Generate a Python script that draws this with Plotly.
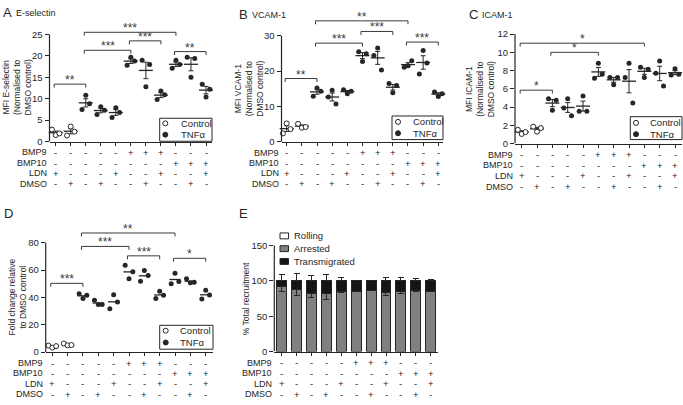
import numpy as np
import plotly.graph_objects as go

W, H = 683, 405
FONT = "Arial, 'Liberation Sans', sans-serif"
INK = "#262626"

# ---------------- data ----------------
ROW_LABELS = ["BMP9", "BMP10", "LDN", "DMSO"]
BMP9_ROW = ["-", "-", "-", "-", "-", "+", "+", "+", "-", "-", "-"]
BMP10_ROW = ["-", "-", "-", "-", "-", "-", "-", "-", "+", "+", "+"]
LDN_ROW = ["+", "-", "-", "-", "+", "-", "-", "+", "-", "-", "+"]
DMSO_ROW = ["-", "+", "-", "+", "-", "-", "+", "-", "-", "+", "-"]
TREATMENT = ["Control", "Control", "TNFα", "TNFα", "TNFα", "TNFα",
             "TNFα", "TNFα", "TNFα", "TNFα", "TNFα"]

# replicate values per condition (3 each)
ESELECTIN = [[2.8, 1.5, 1.9], [1.4, 3.5, 2.3], [7.5, 10.8, 8.8], [6.3, 8.1, 7.3],
             [5.6, 7.9, 6.8], [17.8, 19.7, 18.8], [19.0, 12.8, 18.0], [9.8, 11.8, 10.9],
             [17.1, 19.0, 18.0], [19.7, 15.0, 19.4], [13.4, 10.4, 12.2]]
VCAM1 = [[2.4, 5.2, 3.6], [5.1, 4.0, 4.2], [12.9, 15.2, 14.3], [12.7, 14.6, 10.7],
         [14.7, 13.6, 14.3], [25.5, 22.7, 24.9], [24.4, 26.5, 20.3], [16.5, 13.9, 15.9],
         [21.1, 21.5, 22.9], [19.2, 25.8, 22.3], [14.1, 12.8, 13.6]]
ICAM1 = [[1.5, 1.05, 1.25], [1.85, 1.3, 1.7], [4.9, 3.65, 4.75], [3.9, 4.9, 3.05],
         [3.55, 5.2, 3.55], [7.15, 8.8, 7.6], [7.25, 6.45, 7.25], [7.25, 8.8, 4.45],
         [8.35, 7.25, 8.15], [7.7, 9.05, 6.3], [7.5, 8.2, 7.6]]
FOLD_CHANGE = [[4.8, 3.3, 4.4], [6.3, 5.0, 5.2], [42.6, 39.3, 41.6], [38.0, 34.8, 34.8],
               [31.8, 42.0, 36.6], [63.6, 53.6, 58.8], [51.8, 59.6, 56.0], [39.3, 44.5, 41.6],
               [50.0, 57.6, 51.7], [53.6, 50.7, 51.1], [38.8, 45.3, 41.7]]

# significance brackets: (from condition, to condition, height, label)
ESELECTIN_SIG = [(0, 2, 13.4, "**"), (2, 5, 21.3, "***"), (2, 8, 25.5, "***"),
                 (5, 7, 23.5, "***"), (8, 10, 21.0, "**")]
VCAM1_SIG = [(0, 2, 17.9, "**"), (2, 5, 27.9, "***"), (2, 8, 34.2, "**"),
             (5, 7, 31.2, "***"), (8, 10, 28.2, "***")]
ICAM1_SIG = [(0, 2, 5.85, "*"), (2, 5, 10.0, "*"), (0, 8, 11.0, "*")]
FOLD_SIG = [(0, 2, 50.3, "***"), (2, 5, 77.3, "***"), (2, 8, 87.1, "**"),
            (5, 7, 70.4, "***"), (8, 10, 68.6, "*")]

# panel E: % total recruitment
ROLLING = [0.0, 0.0, 0.0, 0.0, 0.0, 0.0, 0.0, 0.0, 0.0, 0.0, 0.0]
ARRESTED = [91.3, 87.5, 82.0, 82.0, 85.2, 85.2, 86.6, 82.9, 85.2, 86.6, 85.2]
TRANSMIGRATED = [8.7, 12.5, 18.0, 18.0, 14.8, 14.8, 13.4, 17.1, 14.8, 13.4, 14.8]
ARRESTED_SEM = [7.0, 7.8, 6.0, 7.8, 2.2, 0.5, 0.5, 3.2, 3.2, 1.6, 0.5]
TRANSMIGRATED_SEM = [8.9, 9.7, 7.5, 8.9, 4.2, 0.5, 0.8, 4.2, 4.2, 2.8, 1.8]

TABLE = [BMP9_ROW, BMP10_ROW, LDN_ROW, DMSO_ROW]

# ---------------- geometry (pixels) ----------------
GEOM = {
    "A": dict(xl=49.5, xr=212.0, c0=55.7, c10=206.0, y0=142.0, ppu=4.36, ytop=22.0,
              yline=25, tickvals=[0, 5, 10, 15, 20, 25], title_x=16.5,
              rows=[153.0, 164.0, 174.5, 185.0], letter=(1.0, 11.0), name_x=14.0),
    "B": dict(xl=281.5, xr=443.0, c0=286.7, c10=438.3, y0=142.3, ppu=3.6, ytop=14.0,
              yline=30, tickvals=[0, 10, 20, 30], title_x=249.0,
              rows=[153.5, 164.0, 174.5, 185.0], letter=(236.5, 12.5), name_x=250.0),
    "C": dict(xl=515.0, xr=682.0, c0=521.7, c10=675.0, y0=144.0, ppu=9.28, ytop=25.0,
              yline=12, tickvals=[0, 2, 4, 6, 8, 10, 12], title_x=479.5,
              rows=[155.5, 166.0, 177.0, 188.0], letter=(466.5, 12.5), name_x=480.0),
    "D": dict(xl=45.7, xr=213.0, c0=52.3, c10=205.7, y0=356.3, ppu=1.392, ytop=228.0,
              yline=80, tickvals=[0, 20, 40, 60, 80], title_x=17.0,
              rows=[367.5, 378.0, 388.7, 399.0], letter=(1.5, 215.0), name_x=None),
    "E": dict(xl=274.3, xr=438.3, c0=281.7, c10=430.7, y0=355.7, ppu=0.72, ytop=244.0,
              yline=150, tickvals=[0, 50, 100, 150], title_x=246.7,
              rows=[367.3, 378.0, 388.7, 399.0], letter=(236.5, 215.0), name_x=None),
}
LEGEND_BOX = {
    "A": dict(box=(159.7, 118.3, 212.0, 141.7), sx=165.3, tx=178.5, rows=(123.5, 135.0)),
    "B": dict(box=(392.0, 116.0, 443.0, 140.0), sx=398.0, tx=411.0, rows=(122.0, 133.5)),
    "C": dict(box=(630.3, 116.7, 682.0, 140.0), sx=636.0, tx=648.0, rows=(123.0, 134.5)),
    "D": dict(box=(159.7, 329.0, 213.0, 353.3), sx=165.7, tx=178.0, rows=(334.5, 346.5)),
}
OFFSETS = [-0.25, 0.0, 0.25]


def px_x(p):
    return p / W


def px_y(p):
    return 1 - p / H


def ids(n):
    return ("x" if n == 1 else f"x{n}", "y" if n == 1 else f"y{n}")


fig = go.Figure()
annotations = []
shapes = []
axes = {}

TXT = dict(family=FONT, color=INK)

for n, key in enumerate("ABCDE", start=1):
    g = GEOM[key]
    xa, ya = ids(n)
    s = (g["c10"] - g["c0"]) / 10
    xr = [(g["xl"] - g["c0"]) / s, 10 + (g["xr"] - g["c10"]) / s]
    yr = [0, (g["y0"] - g["ytop"]) / g["ppu"]]
    suffix = "" if n == 1 else str(n)
    axes["xaxis" + suffix] = dict(
        domain=[px_x(g["xl"]), px_x(g["xr"])], range=xr, anchor=ya,
        showline=True, linecolor=INK, linewidth=1.2, ticks="outside",
        tickvals=list(range(11)), ticklen=3, tickcolor=INK, tickwidth=1,
        showticklabels=False, showgrid=False, zeroline=False, fixedrange=True)
    axes["yaxis" + suffix] = dict(
        domain=[px_y(g["y0"]), px_y(g["ytop"])], range=yr, anchor=xa,
        showline=False, ticks="outside", tickvals=g["tickvals"], ticklen=4,
        tickcolor=INK, tickwidth=1, tickfont=dict(size=9.5, **TXT),
        showgrid=False, zeroline=False, fixedrange=True)
    # y axis line stopping at last tick
    shapes.append(dict(type="line", xref="paper", yref=ya, x0=px_x(g["xl"]), x1=px_x(g["xl"]),
                       y0=0, y1=g["yline"], line=dict(color=INK, width=1.2)))
    # table beneath
    for r, (label, row) in enumerate(zip(ROW_LABELS, TABLE)):
        yy = px_y(g["rows"][r])
        annotations.append(dict(xref="paper", yref="paper", x=px_x(g["xl"] - 0.5), y=yy,
                                text=label, xanchor="right", yanchor="middle",
                                showarrow=False, font=dict(size=9, **TXT)))
        for i, sgn in enumerate(row):
            annotations.append(dict(xref=xa, yref="paper", x=i, y=yy, text=sgn,
                                    xanchor="center", yanchor="middle", showarrow=False,
                                    font=dict(size=9.5, **TXT)))
    # panel letter
    lx, ly = g["letter"]
    annotations.append(dict(xref="paper", yref="paper", x=px_x(lx), y=px_y(ly), text=key,
                            xanchor="left", yanchor="middle", showarrow=False,
                            font=dict(size=13, **TXT)))

PANEL_NAMES = {"A": "E-selectin", "B": "VCAM-1", "C": "ICAM-1"}
for key, name in PANEL_NAMES.items():
    g = GEOM[key]
    annotations.append(dict(xref="paper", yref="paper", x=px_x(g["name_x"]), y=px_y(g["letter"][1] + 0.5),
                            text=name, xanchor="left", yanchor="middle", showarrow=False,
                            font=dict(size=9, **TXT)))

Y_TITLES = {
    "A": "MFI E-selectin<br>(Normalised to<br>DMSO control)",
    "B": "MFI VCAM-1<br>(Normalised to<br>DMSO control)",
    "C": "MFI ICAM-1<br>(Normalised to<br>DMSO control)",
    "D": "Fold change relative<br>to DMSO control",
    "E": "% Total recruitment",
}
for key, t in Y_TITLES.items():
    g = GEOM[key]
    ymid = g["y0"] - g["yline"] * g["ppu"] / 2
    annotations.append(dict(xref="paper", yref="paper", x=px_x(g["title_x"]), y=px_y(ymid),
                            text=t, textangle=-90, xanchor="center", yanchor="middle",
                            showarrow=False, font=dict(size=8.5, **TXT)))

# ---------------- dot plots ----------------
SCATTER_PANELS = [("A", 1, ESELECTIN, ESELECTIN_SIG, True),
                  ("B", 2, VCAM1, VCAM1_SIG, True),
                  ("C", 3, ICAM1, ICAM1_SIG, True),
                  ("D", 4, FOLD_CHANGE, FOLD_SIG, False)]

for key, n, values, sig, with_err in SCATTER_PANELS:
    g = GEOM[key]
    xa, ya = ids(n)
    arr = np.array(values)
    means = arr.mean(axis=1)
    sems = arr.std(axis=1, ddof=1) / np.sqrt(arr.shape[1])
    mean_trace = dict(
        x=list(range(11)), y=means, mode="markers", xaxis=xa, yaxis=ya,
        marker=dict(symbol="line-ew", size=10 if with_err else 8,
                    line=dict(width=1.3, color=INK)),
        cliponaxis=False, showlegend=False, hoverinfo="skip")
    if with_err:
        mean_trace["error_y"] = dict(type="data", array=sems, color=INK, thickness=1, width=2.5)
    fig.add_trace(go.Scatter(**mean_trace))
    for group, fill, lw in (("Control", "white", 1.0), ("TNFα", INK, 0)):
        xs, ys = [], []
        for i, (trt, reps) in enumerate(zip(TREATMENT, values)):
            if trt != group:
                continue
            for k, v in enumerate(reps):
                xs.append(i + OFFSETS[k])
                ys.append(v)
        fig.add_trace(go.Scatter(
            x=xs, y=ys, mode="markers", xaxis=xa, yaxis=ya, cliponaxis=False,
            marker=dict(symbol="circle", size=5.0, color=fill, line=dict(width=lw, color=INK)),
            showlegend=False, hoverinfo="skip"))
    d = 3.5 / g["ppu"]
    for i, j, h, stars in sig:
        x0 = i - 0.1
        shapes.append(dict(type="path", xref=xa, yref=ya,
                           path=f"M {x0},{h - d} L {x0},{h} L {j},{h} L {j},{h - d}",
                           line=dict(color="#3a3a3a", width=1)))
        annotations.append(dict(xref=xa, yref=ya, x=(x0 + j) / 2, y=h, text=stars,
                                xanchor="center", yanchor="bottom", yshift=-5,
                                showarrow=False, font=dict(size=12, family=FONT, color="#3a3a3a")))
    # legend box
    lb = LEGEND_BOX[key]
    bx0, by0, bx1, by1 = lb["box"]
    shapes.append(dict(type="rect", xref="paper", yref="paper", x0=px_x(bx0), x1=px_x(bx1),
                       y0=px_y(by1), y1=px_y(by0), line=dict(color=INK, width=1),
                       fillcolor="white", layer="above"))
    for (lab, fill), ry in zip((("Control", "white"), ("TNFα", INK)), lb["rows"]):
        shapes.append(dict(type="circle", xref="paper", yref="paper",
                           xsizemode="pixel", ysizemode="pixel",
                           xanchor=px_x(lb["sx"]), yanchor=px_y(ry),
                           x0=-2.5, x1=2.5, y0=-2.5, y1=2.5,
                           fillcolor=fill, line=dict(color=INK, width=1), layer="above"))
        annotations.append(dict(xref="paper", yref="paper", x=px_x(lb["tx"]), y=px_y(ry),
                                text=lab, xanchor="left", yanchor="middle", showarrow=False,
                                font=dict(size=9.5, **TXT)))

# ---------------- stacked bars (E) ----------------
xa5, ya5 = ids(5)
zeros = [0.0] * 11
fig.add_trace(go.Bar(x=list(range(11)), y=ARRESTED, xaxis=xa5, yaxis=ya5, width=0.67,
                     marker=dict(color="#808080", line=dict(color=INK, width=1)),
                     error_y=dict(type="data", symmetric=False, array=zeros,
                                  arrayminus=ARRESTED_SEM, color=INK, thickness=1, width=3),
                     showlegend=False, hoverinfo="skip"))
fig.add_trace(go.Bar(x=list(range(11)), y=TRANSMIGRATED, xaxis=xa5, yaxis=ya5, width=0.67,
                     marker=dict(color="#151515", line=dict(color=INK, width=1)),
                     error_y=dict(type="data", symmetric=False, array=TRANSMIGRATED_SEM,
                                  arrayminus=zeros, color=INK, thickness=1, width=3),
                     showlegend=False, hoverinfo="skip"))
fig.add_trace(go.Bar(x=list(range(11)), y=ROLLING, xaxis=xa5, yaxis=ya5, width=0.67,
                     marker=dict(color="white", line=dict(color=INK, width=1)),
                     showlegend=False, hoverinfo="skip"))

E_LEGEND = [("Rolling", "white", 238.0), ("Arrested", "#808080", 251.0),
            ("Transmigrated", "#151515", 264.0)]
for lab, fill, ry in E_LEGEND:
    shapes.append(dict(type="rect", xref="paper", yref="paper", x0=px_x(280.0), x1=px_x(288.5),
                       y0=px_y(ry + 3), y1=px_y(ry - 3), fillcolor=fill,
                       line=dict(color=INK, width=1)))
    annotations.append(dict(xref="paper", yref="paper", x=px_x(291.5), y=px_y(ry), text=lab,
                            xanchor="left", yanchor="middle", showarrow=False,
                            font=dict(size=9.5, **TXT)))

fig.update_layout(
    width=W, height=H, margin=dict(l=0, r=0, t=0, b=0),
    paper_bgcolor="white", plot_bgcolor="white",
    font=dict(family=FONT, color=INK, size=9),
    barmode="stack", showlegend=False, hovermode=False,
    annotations=annotations, shapes=shapes, **axes)

fig.write_html("out.html", config={"displayModeBar": False, "staticPlot": True},
               post_script="document.body.style.margin='0px';document.body.style.overflow='hidden';")
